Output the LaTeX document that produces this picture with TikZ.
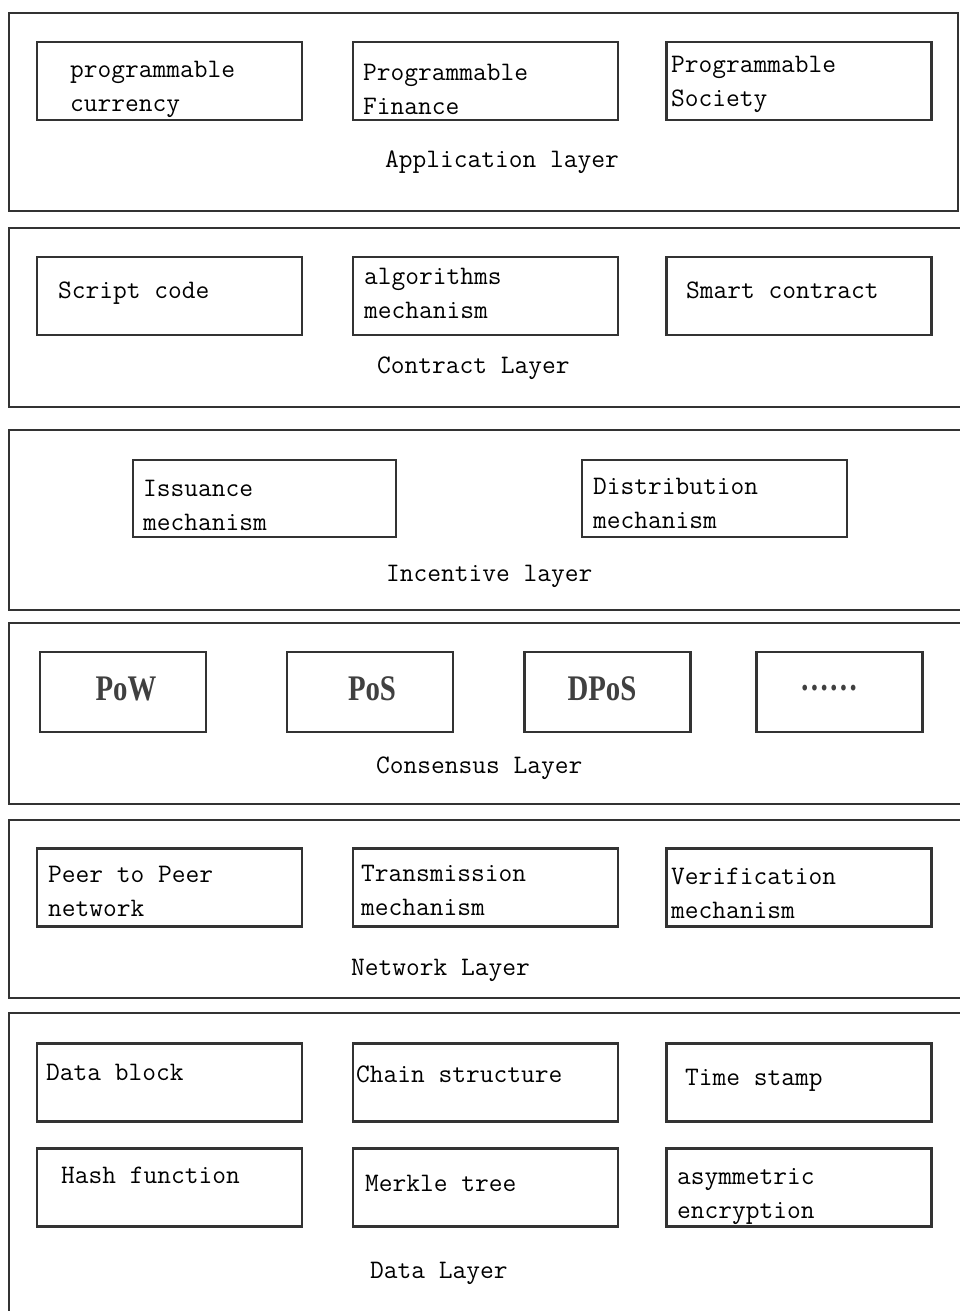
\documentclass[tikz,border=0pt]{standalone}
\usepackage{fontspec}
\newfontfamily\consfont[FakeStretch=0.8]{Liberation Serif}
\tikzset{
  lyr/.style={draw=black!80, line width=2.6pt},
  blk/.style={draw=black!80, line width=2.6pt, minimum width=265pt, minimum height=78pt, inner sep=0pt},
  txt/.style={font=\ttfamily\fontsize{26.7}{34}\selectfont, anchor=base west, inner sep=0pt, align=left},
  cons/.style={font=\consfont\bfseries\fontsize{36}{40}\selectfont, text=black!75, anchor=base, inner sep=0pt},
}
\begin{document}
\begin{tikzpicture}[x=1pt, y=-1pt]
  \useasboundingbox (0,0) rectangle (960,1311);
  \clip (0,0) rectangle (960,1311);

  % Application layer
  \draw[lyr] (9,13) rectangle (958,211);
  \node[blk] (cur) at (169.5,81) {};
  \node[blk] (fin) at (485.5,81) {};
  \node[blk] (soc) at (799,81) {};
  \node[txt] (t-cur) at (70,112) {programmable\\currency};
  \node[txt] (t-fin) at (363,114) {Programmable\\Finance};
  \node[txt] (t-soc) at (671,107) {Programmable\\Society};
  \node[txt] (app) at (385,167) {Application layer};

  % Contract layer
  \draw[lyr] (9,228) rectangle (975,407);
  \node[blk] (scr) at (169.5,296) {};
  \node[blk] (alg) at (485.5,296) {};
  \node[blk] (smc) at (799,296) {};
  \node[txt] (t-scr) at (58,298) {Script code};
  \node[txt] (t-alg) at (364,318) {algorithms\\mechanism};
  \node[txt] (t-smc) at (686,298) {Smart contract};
  \node[txt] (con) at (377,373) {Contract Layer};

  % Incentive layer
  \draw[lyr] (9,430) rectangle (975,610);
  \node[blk, minimum width=263pt, minimum height=77pt] (iss) at (264.5,498.5) {};
  \node[blk, minimum height=77pt] (dis) at (714.5,498.5) {};
  \node[txt] (t-iss) at (143,530) {Issuance\\mechanism};
  \node[txt] (t-dis) at (593,528) {Distribution\\mechanism};
  \node[txt] (inc) at (386,581) {Incentive layer};

  % Consensus layer
  \draw[lyr] (9,623) rectangle (975,804);
  \node[blk, minimum width=166pt, minimum height=80pt] (pow) at (123,692) {};
  \node[blk, minimum width=166pt, minimum height=80pt] (pos) at (370,692) {};
  \node[blk, minimum width=166pt, minimum height=80pt] (dpos) at (607.5,692) {};
  \node[blk, minimum width=166pt, minimum height=80pt] (etc) at (839.5,692) {};
  \node[cons] (t-pow) at (126,700) {PoW};
  \node[cons] (t-pos) at (372,700) {PoS};
  \node[cons] (t-dpos) at (602,700) {DPoS};
  \node[cons, anchor=center] (t-etc) at (829,688) {\textellipsis\textellipsis};
  \node[txt] (cns) at (376,773) {Consensus Layer};

  % Network layer
  \draw[lyr] (9,820) rectangle (975,998);
  \node[blk] (p2p) at (169.5,887.5) {};
  \node[blk] (trm) at (485.5,887.5) {};
  \node[blk] (ver) at (799,887.5) {};
  \node[txt] (t-p2p) at (48,916) {Peer to Peer\\network};
  \node[txt] (t-trm) at (361,915) {Transmission\\mechanism};
  \node[txt] (t-ver) at (671,918) {Verification\\mechanism};
  \node[txt] (net) at (351,975) {Network Layer};

  % Data layer
  \draw[lyr] (9,1013) rectangle (975,1340);
  \node[blk] (blo) at (169.5,1082.5) {};
  \node[blk] (chn) at (485.5,1082.5) {};
  \node[blk] (tim) at (799,1082.5) {};
  \node[blk] (hsh) at (169.5,1187.5) {};
  \node[blk] (mrk) at (485.5,1187.5) {};
  \node[blk] (asy) at (799,1187.5) {};
  \node[txt] (t-blo) at (46,1080) {Data block};
  \node[txt] (t-chn) at (356,1082) {Chain structure};
  \node[txt] (t-tim) at (685,1085) {Time stamp};
  \node[txt] (t-hsh) at (61,1183) {Hash function};
  \node[txt] (t-mrk) at (365,1191) {Merkle tree};
  \node[txt] (t-asy) at (677,1218) {asymmetric\\encryption};
  \node[txt] (dat) at (370,1278) {Data Layer};
\end{tikzpicture}
\end{document}
